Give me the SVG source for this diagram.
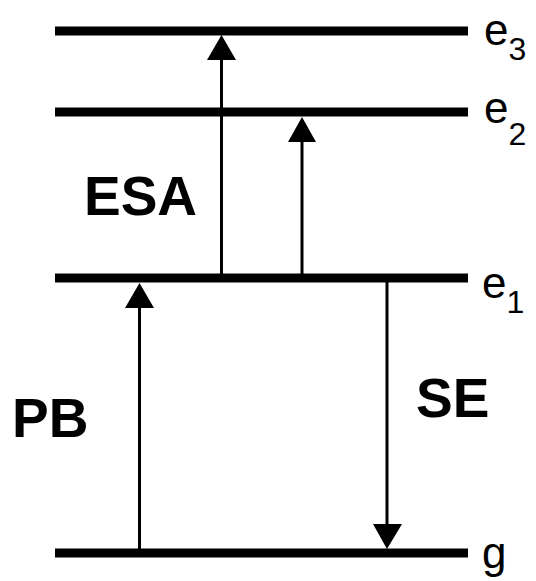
<svg xmlns="http://www.w3.org/2000/svg" width="536" height="581" viewBox="0 0 536 581">
<style>
.lvl{stroke:#000;stroke-width:9;fill:none}
.arr{stroke:#000;stroke-width:3;fill:none}
.head{fill:#000}
.lab{font-family:"Liberation Sans",Arial,sans-serif;fill:#000}
.big{font-size:55px;font-weight:bold}
.e{font-size:44px}
.sub{font-size:32px}
</style>
<rect width="536" height="581" fill="#fff"/>
<g id="e3"><line class="lvl" x1="55" y1="31" x2="468" y2="31"/><text class="lab e" x="484" y="45">e<tspan class="sub" y="60">3</tspan></text></g>
<g id="e2"><line class="lvl" x1="55" y1="112" x2="468" y2="112"/><text class="lab e" x="484" y="123">e<tspan class="sub" y="145">2</tspan></text></g>
<g id="e1"><line class="lvl" x1="55" y1="278" x2="468" y2="278"/><text class="lab e" x="482" y="298">e<tspan class="sub" y="313">1</tspan></text></g>
<g id="g"><line class="lvl" x1="55" y1="553" x2="468" y2="553"/><text class="lab e" x="482" y="568">g</text></g>
<g id="labels">
<text class="lab big" x="84" y="215">ESA</text>
<text class="lab big" x="12" y="437">PB</text>
<text class="lab big" x="416" y="417">SE</text>
</g>
<g id="connectors">
<line class="arr" x1="221.5" y1="274" x2="221.5" y2="58"/>
<polygon class="head" points="221.5,35 207,60 236,60"/>
<line class="arr" x1="302" y1="274" x2="302" y2="140"/>
<polygon class="head" points="302,117 288,142 316,142"/>
<line class="arr" x1="139.5" y1="549" x2="139.5" y2="305"/>
<polygon class="head" points="139.5,283 125,308 154,308"/>
<line class="arr" x1="387" y1="282" x2="387" y2="527"/>
<polygon class="head" points="387,549 373,524 402,524"/>
</g>
</svg>
